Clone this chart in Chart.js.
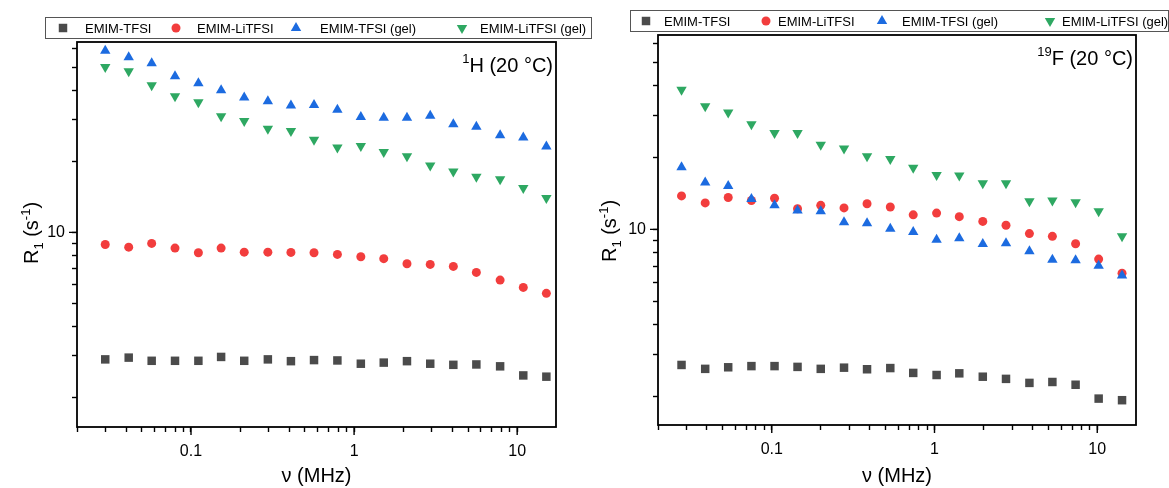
<!DOCTYPE html>
<html>
<head>
<meta charset="utf-8">
<script src="https://cdn.jsdelivr.net/npm/chart.js@4.4.1/dist/chart.umd.min.js"></script>
<style>
  html, body { margin: 0; padding: 0; background: #fff; }
  #wrap { position: relative; width: 1169px; height: 488px; overflow: hidden; }
  canvas { position: absolute; top: 0; }
</style>
</head>
<body>
<div id="wrap">
  <canvas id="chartH" width="596" height="488" style="left:0"></canvas>
  <canvas id="chartF" width="573" height="488" style="left:596px"></canvas>
</div>
<script>
const FONT = "'Liberation Sans', Arial, sans-serif";

// ---- data ----
const seriesNames = ["EMIM-TFSI", "EMIM-LiTFSI", "EMIM-TFSI (gel)", "EMIM-LiTFSI (gel)"];

// 1H panel
const freqH = [0.0298, 0.0415, 0.0574, 0.0798, 0.111, 0.153, 0.212, 0.296, 0.41, 0.568,
               0.79, 1.10, 1.52, 2.11, 2.93, 4.06, 5.62, 7.86, 10.9, 15.1];
const h_tfsi = [2.90, 2.95, 2.86, 2.86, 2.86, 2.97, 2.86, 2.90, 2.85, 2.88,
                2.87, 2.78, 2.81, 2.85, 2.78, 2.75, 2.76, 2.71, 2.48, 2.45];
const h_litfsi = [8.89, 8.66, 8.98, 8.58, 8.20, 8.58, 8.25, 8.25, 8.23, 8.20,
                  8.07, 7.89, 7.74, 7.37, 7.32, 7.18, 6.77, 6.28, 5.85, 5.52];
const h_tfsiGel = [58.7, 55.1, 52.0, 45.8, 42.8, 40.0, 37.3, 35.9, 34.5, 34.6,
                   33.1, 30.8, 30.6, 30.6, 31.2, 28.7, 28.0, 25.8, 25.2, 23.1];
const h_litfsiGel = [50.2, 48.1, 42.0, 37.7, 35.6, 31.0, 29.6, 27.5, 26.9, 24.7,
                     22.9, 23.2, 21.9, 21.0, 19.2, 18.1, 17.2, 16.8, 15.4, 14.0];

// 19F panel
const freqF = [0.0279, 0.039, 0.054, 0.075, 0.104, 0.144, 0.200, 0.278, 0.385, 0.535,
               0.740, 1.03, 1.42, 1.98, 2.75, 3.83, 5.30, 7.36, 10.2, 14.2];
const f_tfsi = [2.71, 2.61, 2.65, 2.68, 2.68, 2.66, 2.61, 2.64, 2.60, 2.63,
                2.51, 2.46, 2.50, 2.42, 2.37, 2.28, 2.30, 2.24, 1.96, 1.93];
const f_litfsi = [13.8, 12.9, 13.6, 13.2, 13.5, 12.2, 12.6, 12.3, 12.8, 12.4,
                  11.5, 11.7, 11.3, 10.8, 10.4, 9.6, 9.35, 8.71, 7.51, 6.56];
const f_tfsiGel = [18.2, 15.7, 15.2, 13.4, 12.6, 12.0, 11.9, 10.7, 10.6, 10.07,
                   9.74, 9.05, 9.17, 8.68, 8.74, 8.11, 7.47, 7.42, 7.05, 6.42];
const f_litfsiGel = [38.4, 32.7, 30.8, 27.5, 25.3, 25.3, 22.6, 21.8, 20.2, 19.7,
                     18.1, 16.9, 16.8, 15.6, 15.6, 13.1, 13.2, 13.0, 11.9, 9.35];

// ticks
const xTicks = [0.02, 0.03, 0.04, 0.05, 0.06, 0.07, 0.08, 0.09, 0.1,
                0.2, 0.3, 0.4, 0.5, 0.6, 0.7, 0.8, 0.9, 1,
                2, 3, 4, 5, 6, 7, 8, 9, 10];
const xTickLabels = { 0.1: "0.1", 1: "1", 10: "10" };
const yTicks = [2, 3, 4, 5, 6, 7, 8, 9, 10, 20, 30, 40, 50, 60];
const yTickLabels = { 10: "10" };

// ---- styles ----
const seriesColors = ["#4b4b4b", "#f23d3d", "#1c6be0", "#2ea862"];
const markerStyles = ["rect", "circle", "triangle", "triangle"];
const markerRot = [0, 0, 0, 180];
const markerSize = [6, 4.5, 6, 6];

function isDecade(v) {
  const l = Math.log10(v);
  return Math.abs(l - Math.round(l)) < 1e-9;
}

function makeDatasets(freq, cols) {
  return cols.map((vals, i) => ({
    label: seriesNames[i],
    data: freq.map((f, k) => ({ x: f, y: vals[k] })),
    showLine: false,
    pointStyle: markerStyles[i],
    pointRotation: markerRot[i],
    pointRadius: markerSize[i],
    pointHoverRadius: markerSize[i],
    pointBackgroundColor: seriesColors[i],
    pointBorderColor: seriesColors[i],
    pointBorderWidth: 0,
    backgroundColor: seriesColors[i],
    borderColor: seriesColors[i],
    order: 4 - i
  }));
}

// draw a run of text pieces (for sub/superscripts)
function drawRich(ctx, parts, x, y, align) {
  let total = 0;
  parts.forEach(p => {
    ctx.font = p.size + "px " + FONT;
    p.w = ctx.measureText(p.t).width;
    total += p.w;
  });
  let cx = align === "right" ? x - total : align === "center" ? x - total / 2 : x;
  parts.forEach(p => {
    ctx.font = p.size + "px " + FONT;
    ctx.fillText(p.t, cx, y + (p.dy || 0));
    cx += p.w;
  });
}

const yTitleParts = [
  { t: "R", size: 20 },
  { t: "1", size: 13, dy: 5 },
  { t: " (s", size: 20 },
  { t: "-1", size: 13, dy: -8 },
  { t: ")", size: 20 }
];

const frameAxes = {
  id: "frameAxes",
  afterDraw(chart, args, opts) {
    const { ctx, chartArea: a, scales } = chart;
    ctx.save();
    ctx.strokeStyle = "#000";
    ctx.lineWidth = 1.8;
    ctx.strokeRect(a.left, a.top, a.right - a.left, a.bottom - a.top);

    // longer ticks at decades
    ctx.lineWidth = 1.4;
    ctx.beginPath();
    scales.x.ticks.forEach(t => {
      if (isDecade(t.value)) {
        const px = scales.x.getPixelForValue(t.value);
        ctx.moveTo(px, a.bottom);
        ctx.lineTo(px, a.bottom + 8);
      }
    });
    scales.y.ticks.forEach(t => {
      if (isDecade(t.value)) {
        const py = scales.y.getPixelForValue(t.value);
        ctx.moveTo(a.left, py);
        ctx.lineTo(a.left - 8, py);
      }
    });
    ctx.stroke();

    ctx.fillStyle = "#000";
    ctx.textBaseline = "alphabetic";
    // y title, rotated
    ctx.save();
    ctx.translate(opts.yTitleX, opts.yTitleY);
    ctx.rotate(-Math.PI / 2);
    drawRich(ctx, yTitleParts, 0, 0, "center");
    ctx.restore();

    // nucleus label
    drawRich(ctx, opts.label, a.right - 3, a.top + opts.labelDy, "right");
    ctx.restore();
  }
};

const boxLegend = {
  id: "boxLegend",
  afterDraw(chart, args, opts) {
    const ctx = chart.ctx;
    ctx.save();
    ctx.strokeStyle = "#555";
    ctx.lineWidth = 1;
    ctx.strokeRect(opts.left + 0.5, opts.top + 0.5, opts.width, opts.height);
    const cy = opts.top + opts.height / 2 + 0.5;
    ctx.font = "13px " + FONT;
    ctx.textBaseline = "middle";
    chart.data.datasets.forEach((ds, i) => {
      ctx.fillStyle = seriesColors[i];
      Chart.helpers.drawPoint(ctx, {
        pointStyle: markerStyles[i],
        rotation: markerRot[i],
        radius: markerSize[i],
        borderWidth: 0
      }, opts.left + opts.markerX[i], cy);
      ctx.fillStyle = "#000";
      ctx.fillText(ds.label, opts.left + opts.textX[i], cy + 1);
    });
    ctx.restore();
  }
};

function buildChart(id, freq, cols, cfg) {
  new Chart(document.getElementById(id), {
    type: "scatter",
    data: { datasets: makeDatasets(freq, cols) },
    plugins: [frameAxes, boxLegend],
    options: {
      responsive: false,
      animation: false,
      events: [],
      layout: { padding: { top: cfg.top, right: cfg.right, left: 0, bottom: 0 } },
      plugins: {
        legend: { display: false },
        tooltip: { enabled: false },
        frameAxes: cfg.frame,
        boxLegend: cfg.legend
      },
      scales: {
        x: {
          type: "logarithmic",
          min: 0.02,
          max: 17.3,
          bounds: "data",
          afterBuildTicks: s => { s.ticks = xTicks.map(v => ({ value: v })); },
          afterFit: s => { s.height = cfg.xHeight; },
          grid: { display: true, drawOnChartArea: false, drawTicks: true, tickLength: 5,
                  tickColor: "#000", tickWidth: 1.4 },
          border: { display: false },
          ticks: {
            autoSkip: false, maxRotation: 0, padding: 10, color: "#000",
            font: { family: FONT, size: 16 },
            callback: v => xTickLabels[v] || ""
          },
          title: {
            display: true, text: "ν (MHz)", color: "#000",
            font: { family: FONT, size: 20 }, padding: { top: 0, bottom: 0 }
          }
        },
        y: {
          type: "logarithmic",
          min: cfg.yMin,
          max: cfg.yMax,
          bounds: "data",
          afterBuildTicks: s => { s.ticks = yTicks.map(v => ({ value: v })); },
          afterFit: s => { s.width = cfg.yWidth; },
          grid: { display: true, drawOnChartArea: false, drawTicks: true, tickLength: 5,
                  tickColor: "#000", tickWidth: 1.4 },
          border: { display: false },
          ticks: {
            autoSkip: false, padding: 7, color: "#000",
            font: { family: FONT, size: 16 },
            callback: v => yTickLabels[v] || ""
          }
        }
      }
    }
  });
}

buildChart("chartH", freqH, [h_tfsi, h_litfsi, h_tfsiGel, h_litfsiGel], {
  top: 42, right: 40, xHeight: 61, yWidth: 77, yMin: 1.5, yMax: 64,
  frame: {
    yTitleX: 38, yTitleY: 233, labelDy: 30,
    label: [{ t: "1", size: 13, dy: -9 }, { t: "H (20 °C)", size: 20 }]
  },
  legend: { left: 45, top: 17, width: 546, height: 21,
            markerX: [18, 131, 251, 417], textX: [40, 152, 275, 435] }
});

buildChart("chartF", freqF, [f_tfsi, f_litfsi, f_tfsiGel, f_litfsiGel], {
  top: 35, right: 33, xHeight: 63, yWidth: 62, yMin: 1.52, yMax: 65,
  frame: {
    yTitleX: 20, yTitleY: 231, labelDy: 30,
    label: [{ t: "19", size: 13, dy: -9 }, { t: "F (20 °C)", size: 20 }]
  },
  legend: { left: 34, top: 10, width: 538, height: 21,
            markerX: [16, 136, 252, 420], textX: [34, 148, 272, 432] }
});
</script>
</body>
</html>
